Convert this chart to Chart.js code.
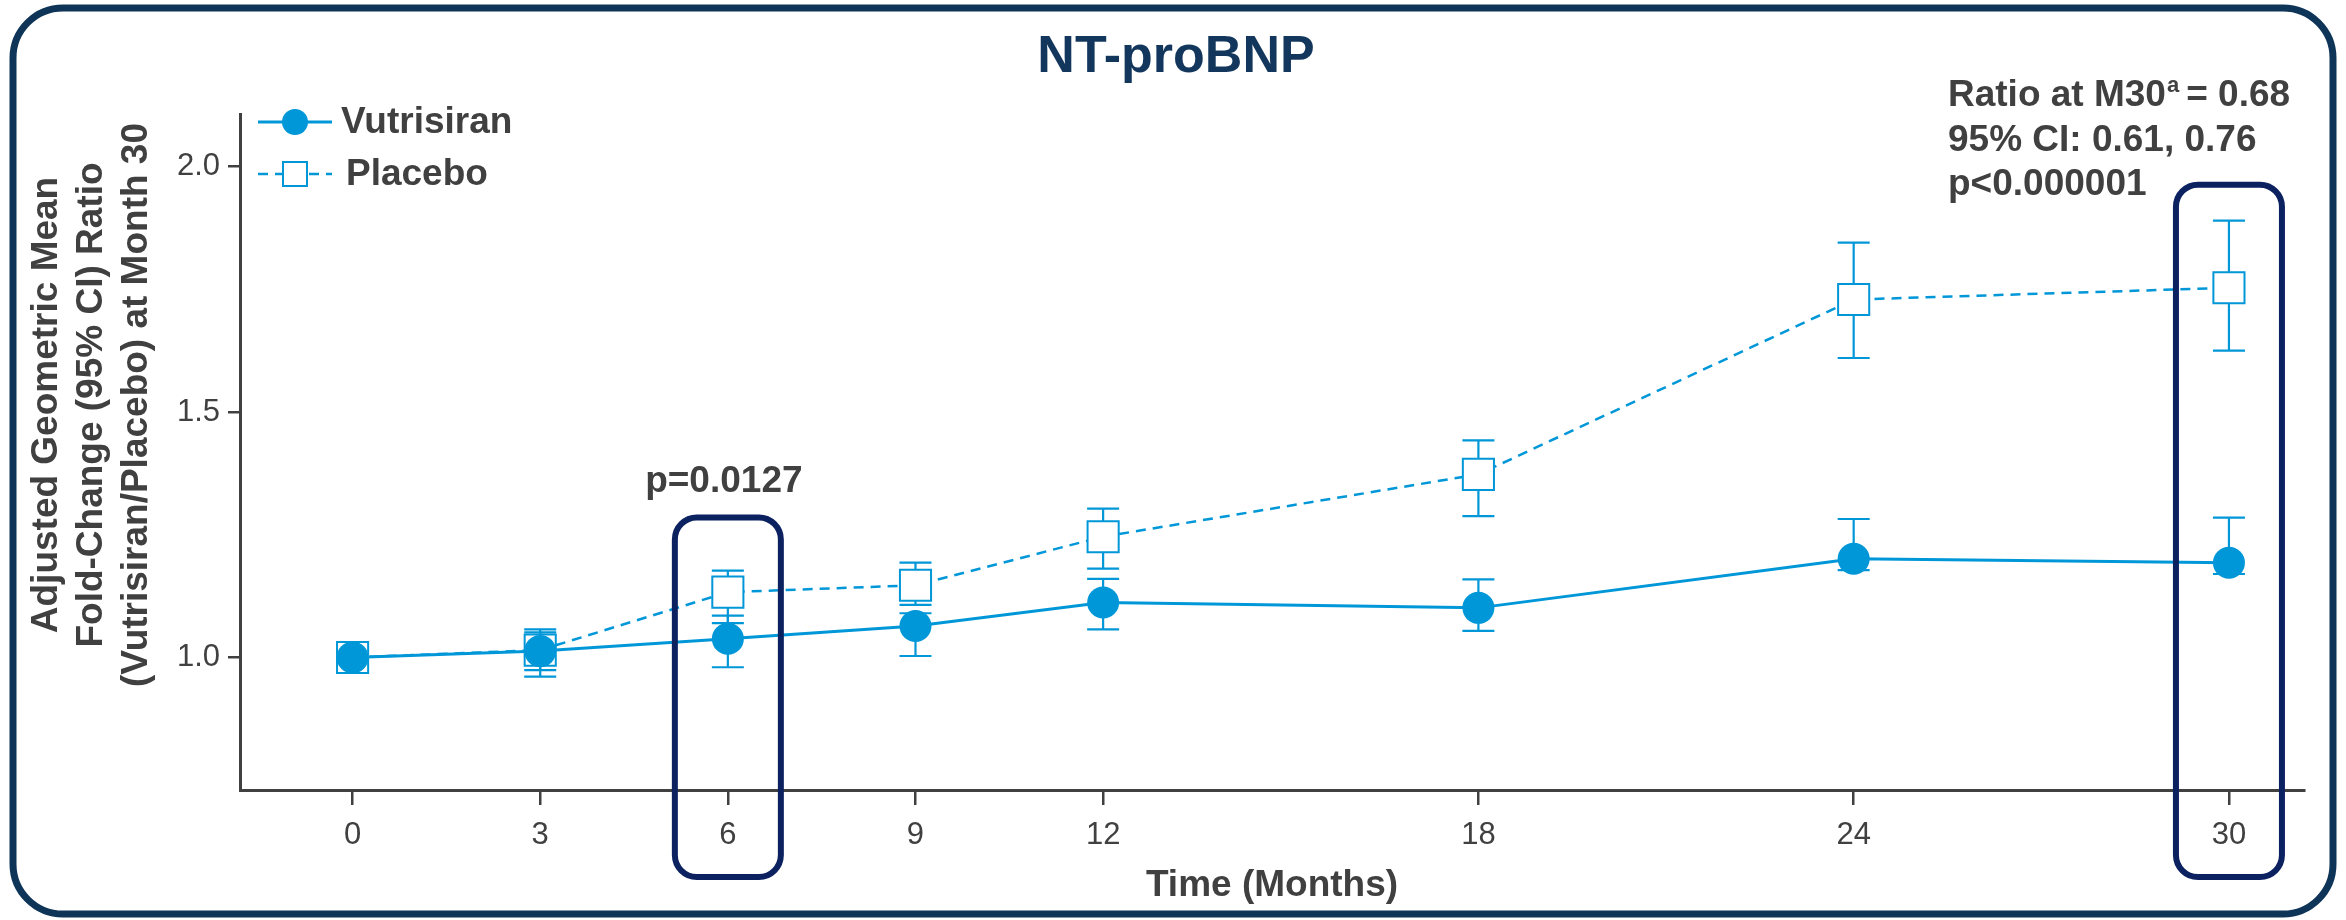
<!DOCTYPE html>
<html>
<head>
<meta charset="utf-8">
<script src="https://cdn.jsdelivr.net/npm/chart.js@4.4.1/dist/chart.umd.min.js"></script>
<style>
  html, body { margin: 0; padding: 0; background: #fff; }
  #wrap { width: 2346px; height: 920px; position: relative; }
</style>
</head>
<body>
<div id="wrap"><canvas id="myChart"></canvas></div>
<script>
// data
const months = [0, 3, 6, 9, 12, 18, 24, 30];
const yTicks = [1.0, 1.5, 2.0];

const vutrisiran = [1.00, 1.013, 1.038, 1.064, 1.112, 1.101, 1.201, 1.193];
const vutLower   = [1.00, 0.974, 0.980, 1.003, 1.057, 1.054, 1.178, 1.170];
const vutUpper   = [1.00, 1.051, 1.085, 1.090, 1.160, 1.159, 1.282, 1.285];

const placebo    = [1.00, 1.015, 1.133, 1.147, 1.246, 1.373, 1.729, 1.753];
const plaLower   = [1.00, 0.961, 1.070, 1.107, 1.181, 1.288, 1.610, 1.625];
const plaUpper   = [1.00, 1.057, 1.177, 1.193, 1.303, 1.442, 1.845, 1.890];

const titleText = "NT-proBNP";
const yTitle = ["Adjusted Geometric Mean", "Fold-Change (95% CI) Ratio", "(Vutrisiran/Placebo) at Month 30"];
const xTitle = "Time (Months)";
const pText = "p=0.0127";
const ratioLines = ["95% CI: 0.61, 0.76", "p<0.000001"];

const BLUE = '#0097D8';
const GREY = '#404040';
const NAVY = '#0B2160';
const FONT = "'Liberation Sans', Arial, Helvetica, sans-serif";

function toPoints(xs, ys) {
    return xs.map((x, i) => ({x: x, y: ys[i]}));
}

function roundRect(ctx, x, y, w, h, r) {
    ctx.beginPath();
    ctx.moveTo(x + r, y);
    ctx.lineTo(x + w - r, y);
    ctx.arcTo(x + w, y, x + w, y + r, r);
    ctx.lineTo(x + w, y + h - r);
    ctx.arcTo(x + w, y + h, x + w - r, y + h, r);
    ctx.lineTo(x + r, y + h);
    ctx.arcTo(x, y + h, x, y + h - r, r);
    ctx.lineTo(x, y + r);
    ctx.arcTo(x, y, x + r, y, r);
    ctx.closePath();
}

const extras = {
    id: 'extras',
    beforeDraw(chart) {
        const ctx = chart.ctx;
        ctx.save();
        ctx.fillStyle = '#fff';
        ctx.fillRect(0, 0, chart.width, chart.height);
        ctx.strokeStyle = '#0E3457';
        ctx.lineWidth = 7;
        roundRect(ctx, 13, 8, chart.width - 26, chart.height - 14, 50);
        ctx.stroke();
        ctx.restore();
    },
    beforeDatasetsDraw(chart) {
        const ctx = chart.ctx;
        const xs = chart.scales.x, ys = chart.scales.y;
        const sets = [[vutLower, vutUpper], [plaLower, plaUpper]];
        ctx.save();
        ctx.strokeStyle = BLUE;
        ctx.lineWidth = 2.2;
        sets.forEach(s => {
            months.forEach((m, i) => {
                if (s[0][i] === s[1][i]) return;
                const px = xs.getPixelForValue(m);
                const lo = ys.getPixelForValue(s[0][i]);
                const hi = ys.getPixelForValue(s[1][i]);
                ctx.beginPath();
                ctx.moveTo(px, lo); ctx.lineTo(px, hi);
                ctx.moveTo(px - 16, lo); ctx.lineTo(px + 16, lo);
                ctx.moveTo(px - 16, hi); ctx.lineTo(px + 16, hi);
                ctx.stroke();
            });
        });
        ctx.restore();
    },
    afterDatasetsDraw(chart) {
        const ctx = chart.ctx;
        const xs = chart.scales.x, ys = chart.scales.y;
        const area = chart.chartArea;
        ctx.save();

        // highlight boxes at month 6 and month 30
        ctx.strokeStyle = NAVY;
        ctx.lineWidth = 6;
        [[6, 1.285], [30, 1.963]].forEach(b => {
            const cx = xs.getPixelForValue(b[0]);
            const top = ys.getPixelForValue(b[1]);
            const bottom = area.bottom + 87;
            roundRect(ctx, cx - 53, top, 106, bottom - top, 22);
            ctx.stroke();
        });

        // title
        ctx.fillStyle = '#13375C';
        ctx.font = 'bold 52px ' + FONT;
        ctx.textAlign = 'center';
        ctx.textBaseline = 'middle';
        ctx.fillText(titleText, 1176, 58);

        // annotations
        ctx.fillStyle = GREY;
        ctx.font = 'bold 37px ' + FONT;
        ctx.fillText(pText, xs.getPixelForValue(6) - 4, 482);

        ctx.textAlign = 'left';
        ctx.textBaseline = 'alphabetic';
        let tx = 1948;
        ctx.fillText("Ratio at M30", tx, 106);
        tx += ctx.measureText("Ratio at M30").width;
        ctx.font = 'bold 22px ' + FONT;
        ctx.fillText("a", tx + 1, 92);
        tx += ctx.measureText("a").width + 8;
        ctx.font = 'bold 37px ' + FONT;
        ctx.fillText("= 0.68", tx, 106);
        ratioLines.forEach((t, i) => ctx.fillText(t, 1948, 151 + i * 44));

        // axis titles
        ctx.textAlign = 'center';
        ctx.textBaseline = 'middle';
        ctx.fillText(xTitle, (area.left + area.right) / 2, 886);
        ctx.save();
        ctx.translate(92, 405);
        ctx.rotate(-Math.PI / 2);
        yTitle.forEach((t, i) => ctx.fillText(t, 0, (i - 1) * 45));
        ctx.restore();

        // legend
        const ds = chart.data.datasets;
        ctx.strokeStyle = BLUE;
        ctx.lineWidth = 3;
        ctx.beginPath();
        ctx.moveTo(258, 122); ctx.lineTo(332, 122);
        ctx.stroke();
        ctx.fillStyle = BLUE;
        ctx.beginPath();
        ctx.arc(295, 122, 13, 0, Math.PI * 2);
        ctx.fill();
        ctx.setLineDash([10, 7]);
        ctx.lineWidth = 2.5;
        ctx.beginPath();
        ctx.moveTo(258, 174); ctx.lineTo(332, 174);
        ctx.stroke();
        ctx.setLineDash([]);
        ctx.fillStyle = '#fff';
        ctx.fillRect(283, 162, 24, 24);
        ctx.lineWidth = 2;
        ctx.strokeRect(283, 162, 24, 24);
        ctx.fillStyle = GREY;
        ctx.textAlign = 'left';
        ctx.fillText(ds[0].label, 341, 123);
        ctx.fillText(ds[1].label, 346, 175);

        ctx.restore();
    }
};

function drawChart() {
    const ctx = document.getElementById("myChart").getContext("2d");
    new Chart(ctx, {
        type: 'line',
        data: {
            datasets: [
                {
                    label: "Vutrisiran",
                    data: toPoints(months, vutrisiran),
                    borderColor: BLUE,
                    backgroundColor: BLUE,
                    borderWidth: 3,
                    pointStyle: 'circle',
                    pointRadius: 16,
                    pointBorderWidth: 0,
                    pointBackgroundColor: BLUE,
                    fill: false
                },
                {
                    label: "Placebo",
                    data: toPoints(months, placebo),
                    borderColor: BLUE,
                    borderWidth: 2.5,
                    borderDash: [10, 7],
                    pointStyle: 'rect',
                    pointRadius: 22,
                    pointBorderWidth: 2,
                    pointBorderColor: BLUE,
                    pointBackgroundColor: '#fff',
                    fill: false
                }
            ]
        },
        options: {
            responsive: true,
            maintainAspectRatio: false,
            animation: false,
            events: [],
            layout: {padding: {top: 114, right: 42, left: 0, bottom: 0}},
            plugins: {
                legend: {display: false},
                title: {display: false},
                tooltip: {enabled: false}
            },
            scales: {
                x: {
                    type: 'linear',
                    min: -1.8,
                    max: 31.2,
                    afterBuildTicks: s => { s.ticks = months.map(v => ({value: v})); },
                    afterFit: s => { s.height = 130; },
                    grid: {drawOnChartArea: false, drawTicks: true, tickLength: 15, color: GREY, lineWidth: 2.5},
                    border: {color: GREY, width: 3},
                    ticks: {font: {family: FONT, size: 31}, color: GREY, padding: 12, callback: v => String(v)}
                },
                y: {
                    min: 0.73,
                    max: 2.107,
                    afterBuildTicks: s => { s.ticks = yTicks.map(v => ({value: v})); },
                    afterFit: s => { s.width = 240; },
                    grid: {drawOnChartArea: false, drawTicks: true, tickLength: 12, color: GREY, lineWidth: 2.5},
                    border: {color: GREY, width: 3},
                    ticks: {font: {family: FONT, size: 31}, color: GREY, padding: 8, callback: v => Number(v).toFixed(1)}
                }
            }
        },
        plugins: [extras]
    });
}

drawChart();
</script>
</body>
</html>
